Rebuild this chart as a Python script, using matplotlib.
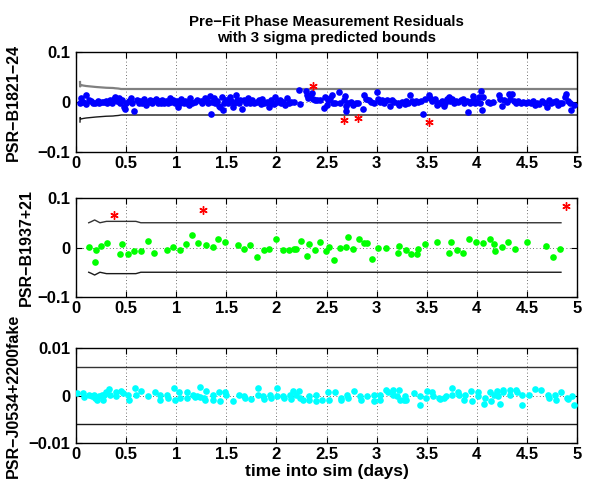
import numpy as np
import matplotlib
matplotlib.use("Agg")
import matplotlib.pyplot as plt
from matplotlib.ticker import FuncFormatter

plt.rcParams['font.family'] = ['Liberation Sans', 'DejaVu Sans']
plt.rcParams['font.weight'] = 'bold'

# ---------------- Panel 1: PSR-B1821-24 ----------------
p1_t = [0.036, 0.052, 0.069, 0.095, 0.101, 0.127, 0.150, 0.167, 0.193, 0.216, 0.232, 0.258, 0.281, 0.297,
        0.314, 0.337, 0.356, 0.379, 0.389, 0.412, 0.428, 0.444, 0.461, 0.477, 0.487, 0.503, 0.526, 0.552,
        0.559, 0.575, 0.608, 0.624, 0.641, 0.663, 0.683, 0.696, 0.716, 0.739, 0.755, 0.771, 0.794, 0.814,
        0.827, 0.846, 0.859, 0.879, 0.902, 0.918, 0.935, 0.951, 0.967, 0.984, 1.010, 1.016, 1.033, 1.049,
        1.075, 1.088, 1.108, 1.131, 1.141, 1.154, 1.186, 1.212, 1.245, 1.261, 1.284, 1.304, 1.317, 1.337,
        1.350, 1.359, 1.376, 1.392, 1.408, 1.425, 1.441, 1.458, 1.467, 1.480, 1.500, 1.513, 1.533, 1.546,
        1.565, 1.578, 1.598, 1.611, 1.631,
        1.641, 1.657, 1.673, 1.696, 1.716, 1.739, 1.761, 1.781, 1.804, 1.827, 1.846, 1.859, 1.879, 1.902,
        1.925, 1.935, 1.951, 1.977, 1.990, 2.010, 2.033, 2.049, 2.065, 2.088, 2.108, 2.121, 2.147, 2.173,
        2.222, 2.239, 2.294, 2.310, 2.317, 2.337, 2.359, 2.369, 2.382, 2.408, 2.435, 2.480, 2.490, 2.500,
        2.513, 2.539, 2.556, 2.565, 2.588, 2.621, 2.637, 2.676, 2.686, 2.693, 2.696, 2.719, 2.742, 2.768,
        2.794, 2.817, 2.866, 2.873, 2.899, 2.925, 2.948, 2.971, 3.003, 3.013, 3.029, 3.056, 3.078, 3.101,
        3.134, 3.154, 3.176, 3.209, 3.225, 3.258, 3.284,
        3.294, 3.317, 3.337, 3.350, 3.369, 3.392, 3.415, 3.441, 3.467, 3.480, 3.523, 3.533, 3.556, 3.578,
        3.598, 3.611, 3.631, 3.654, 3.670, 3.686, 3.703, 3.719, 3.735, 3.752, 3.775, 3.794, 3.817, 3.840,
        3.859, 3.873, 3.899, 3.915, 3.931, 3.948, 3.964, 3.980, 3.997, 4.023, 4.036, 4.046, 4.052, 4.062,
        4.111, 4.134, 4.160, 4.219, 4.232, 4.252, 4.275, 4.297, 4.317, 4.330, 4.356, 4.373, 4.389, 4.415,
        4.438, 4.461, 4.487, 4.513, 4.536, 4.559, 4.578, 4.601, 4.624, 4.650, 4.676, 4.699, 4.716, 4.742,
        4.765, 4.788, 4.807, 4.830, 4.853, 4.879, 4.895, 4.912, 4.928, 4.944, 4.975]
p1_r = [-0.0027, 0.0075, 0.0007, 0.0144, -0.0041, 0.0041, 0.0027, -0.0014, -0.0027, 0.0014, -0.0027, 0.0,
        0.0007, 0.0027, -0.0014, 0.0041, -0.0027, 0.0055, 0.0096, 0.0027, 0.0075, -0.0027, 0.0041, -0.0096,
        -0.0137, -0.0027, 0.0027, 0.0075, -0.0027, -0.0185, 0.0041, -0.0014, 0.0027, -0.0027, 0.0055,
        -0.0062, 0.0007, 0.0041, -0.0027, 0.0014, 0.0055, -0.0027, 0.0027, -0.0027, 0.0041, -0.0014, 0.0027,
        -0.0014, 0.0075, 0.0007, 0.0041, -0.0027, 0.0027, -0.0096, -0.0014, 0.0055, -0.0027, 0.0027, -0.0014,
        -0.0062, 0.0075, -0.0027, 0.0007, 0.0041, 0.0027, -0.0014, 0.0075, 0.0027, -0.0027, 0.0123, -0.0233,
        0.0007, 0.0075, -0.0027, 0.0027, -0.0082, -0.0096, 0.0096, -0.0150, -0.0027, 0.0041, -0.0014, 0.0109,
        0.0027, -0.0096, -0.0027, 0.0144, 0.0041, -0.0027,
        0.0031, -0.0140, 0.0044, -0.0010, 0.0079, -0.0024, 0.0044, -0.0010, 0.0010, 0.0044, -0.0038, 0.0058,
        -0.0010, 0.0010, -0.0092, -0.0024, 0.0031, -0.0038, 0.0099, 0.0010, 0.0044, -0.0010, 0.0010, -0.0058,
        0.0079, -0.0010, 0.0010, 0.0003, 0.0236, -0.0038, 0.0215, 0.0147, 0.0079, 0.0113, 0.0181, 0.0058,
        0.0031, 0.0031, 0.0031, -0.0127, 0.0099, -0.0058, 0.0044, 0.0079, 0.0147, -0.0024, -0.0010, 0.0195,
        -0.0024, 0.0044, 0.0113, -0.0079, -0.0174, -0.0024, 0.0003, -0.0058, -0.0024, -0.0010, -0.0147,
        0.0147, 0.0058, 0.0031, 0.0010, -0.0024, 0.0195, 0.0058, 0.0010, 0.0031, -0.0024, 0.0031, -0.0079,
        0.0044, 0.0010, -0.0024, -0.0058, 0.0010, -0.0038,
        0.0027, -0.0027, 0.0144, 0.0027, -0.0027, 0.0027, 0.0007, 0.0027, -0.0233, 0.0055, 0.0144, 0.0075,
        0.0027, 0.0055, -0.0062, -0.0014, -0.0027, 0.0027, -0.0082, -0.0014, 0.0055, 0.0096, 0.0027, 0.0055,
        -0.0014, 0.0027, 0.0007, 0.0041, 0.0055, -0.0027, 0.0027, -0.0198, -0.0027, 0.0027, 0.0123, -0.0027,
        0.0027, 0.0096, -0.0027, 0.0212, -0.0150, 0.0096, 0.0007, -0.0014, 0.0007, 0.0144, 0.0055, -0.0082,
        0.0041, 0.0007, 0.0164, 0.0055, 0.0164, 0.0027, -0.0014, 0.0027, -0.0027, 0.0007, -0.0027, 0.0007,
        -0.0027, 0.0027, -0.0062, -0.0014, -0.0041, 0.0027, -0.0027, -0.0096, 0.0041, -0.0027, 0.0007,
        0.0027, -0.0062, -0.0014, -0.0027, 0.0096, 0.0164, 0.0027, -0.0027, -0.0150, -0.0060]
p1_out_t = [2.363, 2.676, 2.817, 3.523]
p1_out_r = [0.033, -0.035, -0.031, -0.040]
p1_bt = [0.040, 0.041, 0.050, 0.070, 0.100, 0.200, 0.300, 0.370, 0.390, 0.420, 0.450, 5.000]
p1_bv = [0.040, 0.031, 0.034, 0.033, 0.032, 0.030, 0.0285, 0.028, 0.0275, 0.027, 0.026, 0.026]

# ---------------- Panel 2: PSR-B1937+21 ----------------
p2_t = [0.127, 0.186, 0.196, 0.252, 0.307, 0.435, 0.458, 0.523, 0.582, 0.647, 0.719, 0.775, 0.912, 0.967,
        1.033, 1.101, 1.160, 1.216, 1.297, 1.363, 1.418, 1.487, 1.614, 1.676, 1.735, 1.804, 1.876, 1.931,
        1.997, 2.062, 2.121, 2.180, 2.193, 2.245, 2.301, 2.324, 2.382, 2.438, 2.497, 2.520, 2.575, 2.634,
        2.690, 2.712, 2.768, 2.824, 2.876, 2.905, 2.958, 3.016, 3.095, 3.212, 3.222, 3.291, 3.346, 3.402,
        3.412, 3.480, 3.605, 3.722, 3.742, 3.801, 3.866, 3.922, 3.993, 4.062, 4.127, 4.173, 4.186, 4.252,
        4.310, 4.379, 4.503, 4.693, 4.765, 4.833]
p2_r = [0.002, -0.030, -0.006, 0.004, 0.009, -0.013, 0.007, -0.013, -0.008, -0.008, 0.014, -0.011, -0.006,
        0.002, -0.006, 0.007, 0.025, 0.009, 0.005, 0.002, 0.017, 0.012, 0.005, -0.003, 0.005, -0.020, -0.005,
        -0.003, 0.017, -0.006, -0.005, -0.004, -0.003, 0.014, -0.018, 0.007, -0.006, 0.011, -0.008, 0.002,
        -0.025, -0.001, 0.002, 0.021, -0.003, 0.017, 0.009, 0.009, -0.023, -0.001, -0.001, -0.011, 0.004,
        -0.006, -0.013, -0.013, -0.003, 0.007, 0.012, -0.011, 0.012, -0.006, -0.011, 0.017, 0.012, 0.009,
        0.017, 0.007, -0.008, 0.002, 0.012, -0.003, 0.012, 0.004, -0.020, -0.003]
p2_out_t = [0.376, 1.271, 4.895]
p2_out_r = [0.065, 0.075, 0.084]
p2_bt = [0.127, 0.150, 0.186, 0.239, 0.304, 0.598, 0.647, 4.840]
p2_bv = [0.050, 0.052, 0.0556, 0.050, 0.0528, 0.0528, 0.050, 0.050]

# ---------------- Panel 3: PSR-J0534+2200fake ----------------
p3_t = [0.010, 0.069, 0.075, 0.134, 0.157, 0.180, 0.190, 0.206, 0.232, 0.255, 0.265, 0.278, 0.304, 0.330,
        0.343, 0.395, 0.402, 0.451, 0.467, 0.516, 0.526, 0.592, 0.598, 0.647, 0.722, 0.788, 0.843, 0.843,
        0.908, 0.918, 0.974, 0.984, 1.029, 1.039, 1.105, 1.105, 1.170, 1.186, 1.212, 1.235, 1.235, 1.278,
        1.284, 1.301, 1.366, 1.366, 1.431, 1.438, 1.487, 1.497, 1.562, 1.627,
        1.673, 1.683, 1.748, 1.814, 1.820, 1.869, 1.879, 1.935, 1.944, 2.010, 2.010, 2.065, 2.075, 2.131,
        2.141, 2.163, 2.196, 2.229, 2.239, 2.261, 2.327, 2.327, 2.392, 2.392, 2.458, 2.513, 2.523, 2.588,
        2.644, 2.644, 2.709, 2.719, 2.775, 2.833, 2.840, 2.908, 2.971, 2.971, 3.029, 3.029, 3.095, 3.111,
        3.160, 3.167, 3.199, 3.225, 3.232, 3.275, 3.284, 3.297,
        3.369, 3.435, 3.435, 3.490, 3.500, 3.556, 3.565, 3.621, 3.631, 3.676, 3.696, 3.752, 3.752, 3.817,
        3.827, 3.873, 3.882, 3.941, 3.948, 4.013, 4.013, 4.069, 4.078, 4.134, 4.144, 4.167, 4.199, 4.209,
        4.232, 4.258, 4.265, 4.330, 4.330, 4.395, 4.405, 4.448, 4.454, 4.520, 4.585, 4.644, 4.709, 4.716,
        4.781, 4.788, 4.840, 4.905, 4.912, 4.951, 4.975]
p3_r = [0.00043, 0.00043, -0.00028, 0.00007, -0.00007, 0.00007, -0.0005, -0.00099, -0.00007, 0.00021,
        -0.00099, 0.00021, 0.00078, 0.00135, 0.00021, 0.00064, -0.00007, 0.00092, 0.00043, 0.00021, -0.00099,
        0.00149, 0.00007, 0.00092, -0.00007, 0.00078, 0.00021, -0.00099, 0.00021, -0.0005, 0.00149, -0.00099,
        0.00078, -0.0005, 0.00078, -0.0005, 0.00021, -0.00028, -0.00007, 0.00184, -0.00028, -0.0005, -0.00099,
        0.00092, 0.00007, -0.00099, 0.00078, -0.0012, 0.00078, 0.00021, -0.0012, 0.00007,
        -0.00007, -0.0005, -0.00064, 0.00149, 0.00021, -0.00007, -0.00064, 0.00021, -0.0005, 0.00149,
        -0.00007, -0.00007, -0.0005, 0.00007, -0.00064, 0.00092, 0.00021, 0.00092, -0.0005, -0.00099,
        -0.00007, -0.00099, 0.00021, -0.0012, -0.00099, 0.00064, -0.00099, 0.00064, -0.0005, -0.00099,
        0.00021, -0.0005, 0.00092, -0.00007, -0.00099, -0.00007, 0.00021, -0.0012, 0.00021, -0.00099,
        0.00113, 0.00078, 0.00113, 0.00021, -0.00007, 0.00113, -0.00099, -0.00099, -0.00007, -0.00099,
        0.00043, -0.00007, -0.00206, -0.0005, 0.00092, 0.00078, -0.00007, -0.0005, -0.00078, -0.0005,
        -0.00007, 0.00149, 0.00021, 0.00064, 0.00021, -0.00099, 0.00021, 0.00092, -0.0012, 0.00064, -0.00007,
        -0.0017, -0.0005, 0.00064, -0.0012, 0.00021, 0.00092, -0.00007, -0.0017, 0.00113, 0.00064, 0.00113,
        0.00021, 0.00113, 0.00078, 0.00021, -0.00206, 0.00021, 0.00135, 0.00113, 0.00021, -0.0005, 0.00021,
        -0.00099, 0.00064, -0.0005, -0.00078, -0.00007, -0.00206]
p3_bt = [0.0, 5.0]
p3_bv = [0.006, 0.006]

names = ['PSR\u2212B1821\u221224', 'PSR\u2212B1937+21', 'PSR\u2212J0534+2200fake']
ylims = [0.1, 0.1, 0.01]
xticks = [0, 0.5, 1, 1.5, 2, 2.5, 3, 3.5, 4, 4.5, 5]
label_x = [-0.11, -0.085, -0.11]

W, H = 589, 487
fig = plt.figure(figsize=(W / 100, H / 100), dpi=100)
left = 76 / W
width = 501 / W
boxes = [(52, 152), (198, 297), (348, 443)]
axes = []
for (top, bot) in boxes:
    ax = fig.add_axes([left, 1 - bot / H, width, (bot - top) / H])
    axes.append(ax)

def fmt(v, pos):
    s = '%g' % v
    return s.replace('-', '\u2212')

series = [
    (p1_t, p1_r, 'b', p1_out_t, p1_out_r, p1_bt, p1_bv),
    (p2_t, p2_r, '#00ff00', p2_out_t, p2_out_r, p2_bt, p2_bv),
    (p3_t, p3_r, 'cyan', None, None, p3_bt, p3_bv),
]

for i, (ax, s) in enumerate(zip(axes, series)):
    t, r, col, ot, orr, bt, bv = s
    bv_neg = [-v for v in bv]
    ucol = '0.5' if i == 0 else '0.2'
    ulw = 1.6 if i == 0 else 1.0
    ax.plot(bt, bv, color=ucol, lw=ulw, zorder=2)
    ax.plot(bt, bv_neg, color='0.1', lw=1.0, zorder=2)
    ax.plot(t, r, linestyle='none', marker='o', color=col, markersize=4.8,
            markeredgewidth=0, zorder=3)
    if ot is not None:
        ax.plot(ot, orr, linestyle='none', marker=(6, 2, 0), color='red',
                markersize=6, markeredgewidth=1.0, zorder=4)
    yl = ylims[i]
    ax.set_xlim(0, 5)
    ax.set_ylim(-yl, yl)
    ax.set_xticks(xticks)
    ax.set_yticks([-yl, 0, yl])
    ax.xaxis.set_major_formatter(FuncFormatter(fmt))
    ax.yaxis.set_major_formatter(FuncFormatter(fmt))
    ax.grid(True, linestyle=(0, (1, 3)), color='0.25', linewidth=0.6)
    ax.tick_params(direction='in', length=4, width=0.8, top=True, right=True,
                   labelsize=12)
    ax.tick_params(axis='x', pad=3)
    ax.tick_params(axis='y', pad=4)
    for lab in ax.get_xticklabels() + ax.get_yticklabels():
        lab.set_fontweight('bold')
    for sp in ax.spines.values():
        sp.set_linewidth(1.0)
    ax.set_ylabel(names[i], fontsize=11.5, fontweight='bold')
    ax.yaxis.set_label_coords(label_x[i], 0.5)

axes[0].set_title('Pre\u2212Fit Phase Measurement Residuals\nwith 3 sigma predicted bounds',
                  fontsize=10.8, fontweight='bold', pad=7, linespacing=1.2)
axes[2].set_xlabel('time into sim (days)', fontsize=12.5, fontweight='bold', labelpad=1)

fig.savefig('out.png', dpi=100)
